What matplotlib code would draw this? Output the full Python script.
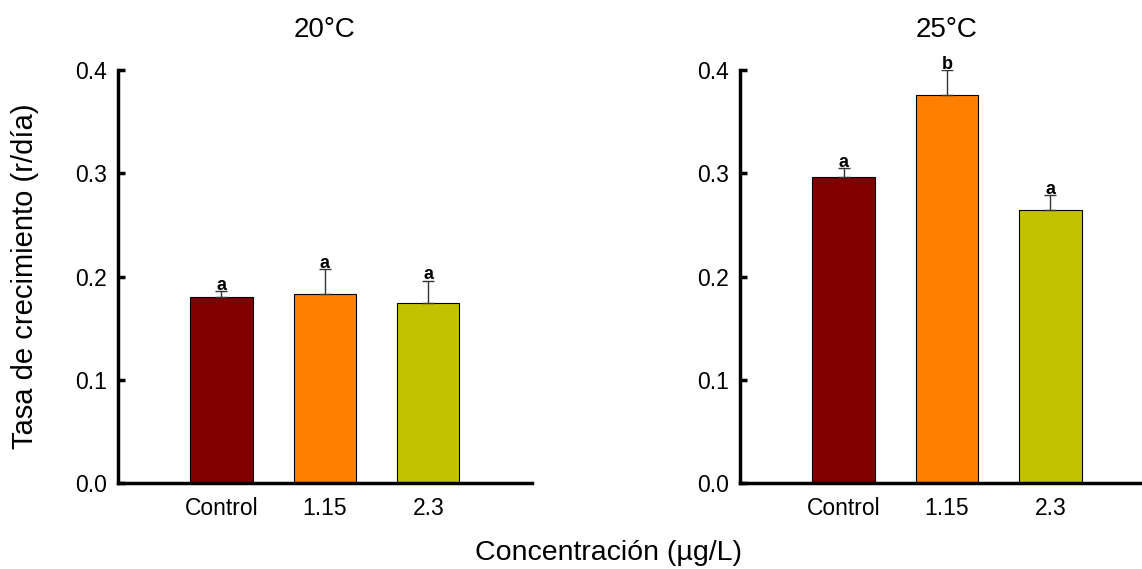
import matplotlib
matplotlib.use("Agg")
import matplotlib.pyplot as plt
import numpy as np

plt.rcParams['font.family'] = ['Liberation Sans', 'DejaVu Sans']

# Growth rate (r/day) by concentration at two temperatures
categories = ["Control", "1.15", "2.3"]
temperatures = ["20°C", "25°C"]
rate_20 = [0.180, 0.183, 0.174]
err_20 = [0.006, 0.024, 0.022]
letters_20 = ["a", "a", "a"]
rate_25 = [0.296, 0.376, 0.264]
err_25 = [0.009, 0.024, 0.015]
letters_25 = ["a", "b", "a"]
y_ticks = [0.0, 0.1, 0.2, 0.3, 0.4]

bar_colors = ["#800000", "#FF8000", "#C2C200"]

fig = plt.figure(figsize=(11.42, 5.69), dpi=100)
ax_w = 0.3625
ax_h = 0.7259
ax_y = 0.1511
ax1 = fig.add_axes([0.1033, ax_y, ax_w, ax_h])
ax2 = fig.add_axes([0.648, ax_y, ax_w, ax_h])

panels = [
    (ax1, temperatures[0], rate_20, err_20, letters_20),
    (ax2, temperatures[1], rate_25, err_25, letters_25),
]

x = np.arange(len(categories))
for ax, title, vals, errs, letters in panels:
    ax.bar(x, vals, width=0.6, color=bar_colors, edgecolor="black",
           linewidth=0.8, zorder=2)
    ax.errorbar(x, vals, yerr=[np.zeros(len(errs)), errs], fmt="none",
                ecolor="#333333", elinewidth=1.0, capsize=4, capthick=1.0,
                zorder=3)
    for xi, v, e, lab in zip(x, vals, errs, letters):
        ax.annotate(lab, (xi, v + e), xytext=(0, 1.0), textcoords="offset points",
                    ha="center", va="baseline", fontsize=13, fontweight="bold")
    ax.set_xlim(-1, 3)
    ax.set_ylim(0, 0.4)
    ax.set_yticks(y_ticks)
    ax.set_yticklabels([f"{t:.1f}" for t in y_ticks])
    ax.set_xticks(x)
    ax.set_xticklabels(categories)
    for side in ("top", "right"):
        ax.spines[side].set_visible(False)
    for side in ("left", "bottom"):
        ax.spines[side].set_linewidth(2.5)
    ax.tick_params(axis="y", direction="in", length=5, width=2.5,
                   labelsize=16.5, pad=8)
    ax.tick_params(axis="x", length=0, labelsize=16.5, pad=10)
    ax.set_title(title, fontsize=20, pad=24)

fig.text(0.022, 1 - 276 / 569, "Tasa de crecimiento (r/día)", rotation=90,
         ha="center", va="center", fontsize=21)
fig.text(0.533, 0.028, "Concentración (µg/L)", ha="center", va="center",
         fontsize=20.5)

fig.savefig("out.png", dpi=100)
